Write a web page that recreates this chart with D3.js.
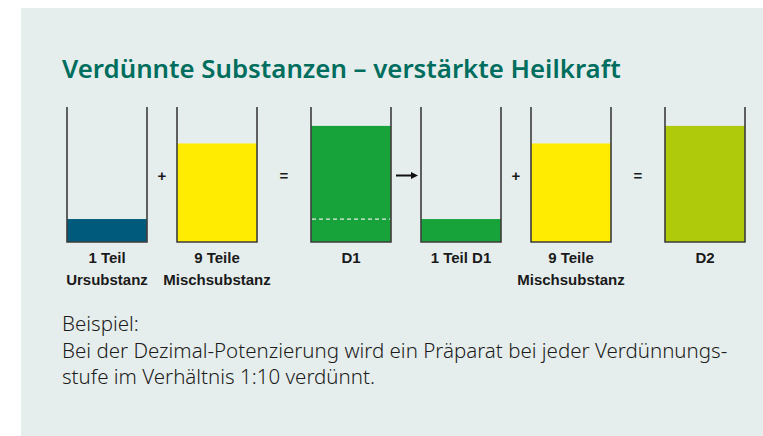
<!DOCTYPE html>
<html>
<head>
<meta charset="utf-8">
<script src="https://cdn.jsdelivr.net/npm/d3@7"></script>
<style>
    html, body { margin: 0; padding: 0; background: #ffffff; }
    svg { display: block; }
</style>
</head>
<body>
<svg id="chart"></svg>
<script>
// beaker contents (fill level in % of beaker height)
const beakerLabels = [["1 Teil", "Ursubstanz"], ["9 Teile", "Mischsubstanz"], ["D1"], ["1 Teil D1"], ["9 Teile", "Mischsubstanz"], ["D2"]];
const fillLevels = [17, 73, 86, 17, 73, 86];
const fillColors = ["#005a7c", "#ffec00", "#17a33a", "#17a33a", "#ffec00", "#afc90b"];
const dashLevels = [null, null, 17, null, null, null];
// operators between beakers
const operators = ["+", "=", "→", "+", "="];

const titleText = "Verdünnte Substanzen – verstärkte Heilkraft";
const bodyLines = [
    "Beispiel:",
    "Bei der Dezimal-Potenzierung wird ein Präparat bei jeder Verdünnungs-",
    "stufe im Verhältnis 1:10 verdünnt."
];

const WIDTH = 763, HEIGHT = 436;
const BEAKER_W = 80;
const GAP = {"+": 30, "→": 30, "=": 54};

let svg = d3.select("#chart").attr("width", WIDTH).attr("height", HEIGHT);

//background panel
svg.append("rect").attr("x", 21).attr("y", 8).attr("width", WIDTH - 21).attr("height", HEIGHT - 8).attr("fill", "#e6eeed");

//title
svg.append("text")
    .attr("x", 62).attr("y", 78)
    .attr("font-family", "'Noto Sans', sans-serif")
    .attr("font-weight", 600)
    .attr("font-size", 25.8)
    .attr("fill", "#006e5e")
    .text(titleText);

//x positions of beakers, built from the operator gaps
let beakerX = [67];
operators.forEach((op, i) => beakerX.push(beakerX[i] + BEAKER_W + GAP[op]));

let yScale = d3.scaleLinear().domain([0, 100]).range([242, 107]);

let beakers = svg.append("g").attr("id", "beakers")
    .selectAll("g").data(fillLevels).join("g")
    .attr("transform", (d, i) => `translate(${beakerX[i]},0)`);

beakers.append("rect")
    .attr("x", 0)
    .attr("y", d => yScale(d))
    .attr("width", BEAKER_W)
    .attr("height", d => yScale(0) - yScale(d))
    .attr("fill", (d, i) => fillColors[i]);

beakers.each(function(d, i){
    if(dashLevels[i] === null) return;
    d3.select(this).append("line")
        .attr("x1", 1).attr("x2", BEAKER_W - 1)
        .attr("y1", yScale(dashLevels[i]))
        .attr("y2", yScale(dashLevels[i]))
        .attr("stroke", "#e8f0e8")
        .attr("stroke-width", 1.2)
        .attr("stroke-dasharray", "4,3");
});

beakers.append("path")
    .attr("d", `M0,${yScale(100)}V${yScale(0)}H${BEAKER_W}V${yScale(100)}`)
    .attr("fill", "none")
    .attr("stroke", "#3c3c3c")
    .attr("stroke-width", 1.6);

//labels under beakers
beakers.each(function(d, i){
    d3.select(this).selectAll("text").data(beakerLabels[i]).join("text")
        .attr("x", BEAKER_W / 2)
        .attr("y", (t, j) => 263 + j * 22)
        .attr("text-anchor", "middle")
        .attr("font-family", "'Liberation Sans', sans-serif")
        .attr("font-weight", "bold")
        .attr("font-size", 15)
        .attr("fill", "#1a1a1a")
        .text(t => t);
});

//operators
let midY = (yScale(0) + yScale(100)) / 2 + 1;
operators.forEach((op, i) => {
    let x0 = beakerX[i] + BEAKER_W, x1 = beakerX[i + 1];
    if(op === "→"){
        svg.append("line")
            .attr("x1", x0 + 5).attr("x2", x1 - 8)
            .attr("y1", midY).attr("y2", midY)
            .attr("stroke", "#111").attr("stroke-width", 2);
        svg.append("path")
            .attr("d", `M${x1 - 10},${midY - 3.5}L${x1 - 3},${midY}L${x1 - 10},${midY + 3.5}Z`)
            .attr("fill", "#111");
    } else {
        svg.append("text")
            .attr("x", (x0 + x1) / 2)
            .attr("y", midY + 5)
            .attr("text-anchor", "middle")
            .attr("font-family", "'Liberation Sans', sans-serif")
            .attr("font-weight", "bold")
            .attr("font-size", 15)
            .attr("fill", "#1a1a1a")
            .text(op);
    }
});

//body text
svg.append("g").selectAll("text").data(bodyLines).join("text")
    .attr("x", 62)
    .attr("y", (d, i) => 331 + i * 26.5)
    .attr("font-family", "'Noto Sans', sans-serif")
    .attr("font-weight", 300)
    .attr("font-size", 20.5)
    .attr("fill", "#1c1c1c")
    .text(d => d);
</script>
</body>
</html>
